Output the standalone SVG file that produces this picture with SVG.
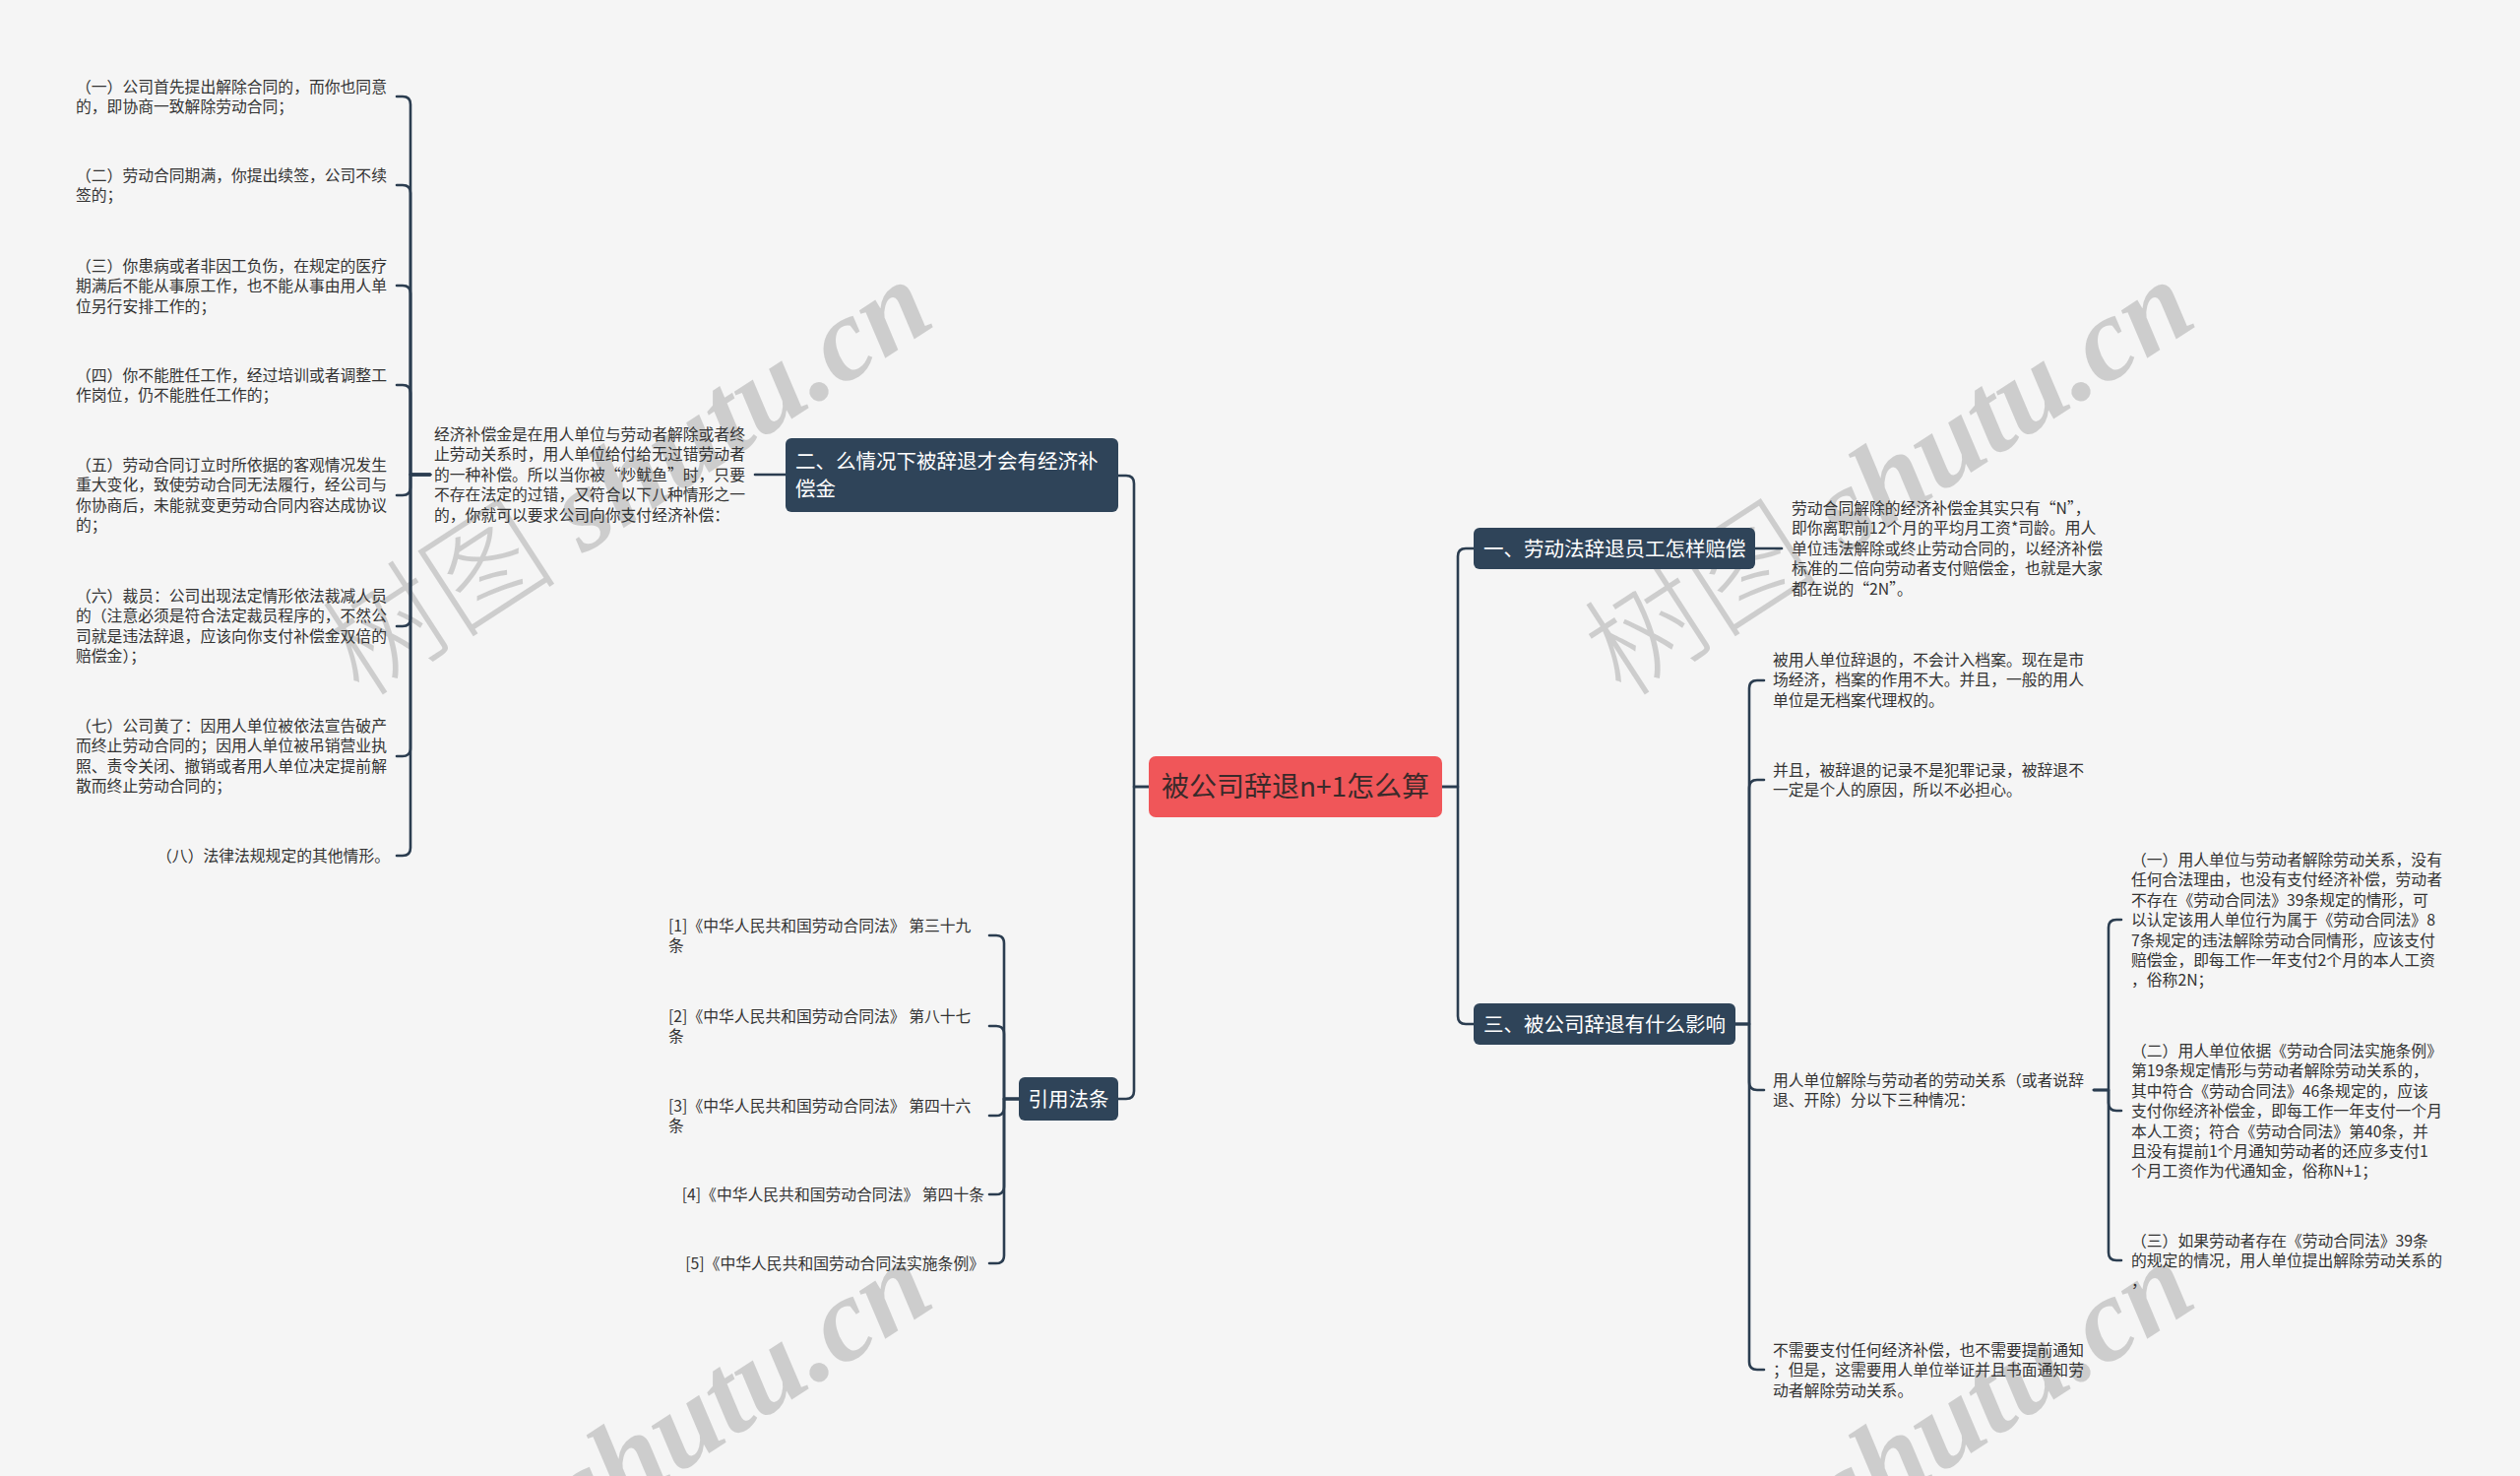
<svg xmlns="http://www.w3.org/2000/svg" width="2560" height="1499" viewBox="0 0 2560 1499">
<style>
.bg{fill:#F5F5F5}
.wm{font-family:"Liberation Sans","Noto Sans CJK SC",sans-serif;font-size:120px;fill:#000;fill-opacity:0.16}
.wmc{font-family:"Noto Sans CJK SC",sans-serif;font-weight:300}
.wml{font-family:"Liberation Serif",serif;font-style:italic;font-weight:bold}
.conn path{fill:none;stroke:#2B3D50;stroke-width:2.6;stroke-linecap:round;stroke-linejoin:round}
.root rect{fill:#F05659}
.root text{font-family:"Noto Sans CJK SC","Noto Sans",sans-serif;font-size:28px;fill:#3A2A2A;text-anchor:middle}
.main rect{fill:#2F4459}
.main text{font-family:"Noto Sans CJK SC","Noto Sans",sans-serif;font-size:20.5px;fill:#FFFFFF}
.leaf text{font-family:"Noto Sans CJK SC","Noto Sans",sans-serif;font-size:15.8px;fill:#333333}
.end{text-anchor:end}
</style>
<rect class="bg" x="0" y="0" width="2560" height="1499"/>

<g id="watermarks">
<text class="wm" transform="translate(366,710) rotate(-33)"><tspan class="wmc">树图</tspan><tspan class="wml" dx="30">shutu.cn</tspan></text>
<text class="wm" transform="translate(1648,710) rotate(-33)"><tspan class="wmc">树图</tspan><tspan class="wml" dx="30">shutu.cn</tspan></text>
<text class="wm" transform="translate(366,1706) rotate(-33)"><tspan class="wmc">树图</tspan><tspan class="wml" dx="30">shutu.cn</tspan></text>
<text class="wm" transform="translate(1648,1706) rotate(-33)"><tspan class="wmc">树图</tspan><tspan class="wml" dx="30">shutu.cn</tspan></text>
</g>

<g id="connectors" class="conn">
<path d="M1167,799 H1152 V491 Q1152,483 1144,483 H1136"/>
<path d="M1167,799 H1152 V1108 Q1152,1116 1144,1116 H1136"/>
<path d="M1465,799 H1481 V565 Q1481,557 1489,557 H1497"/>
<path d="M1465,799 H1481 V1032 Q1481,1040 1489,1040 H1497"/>
<path d="M1783,557 H1810"/>
<path d="M798,482 H767"/>
<path d="M437,482 H417 V106 Q417,98 409,98 H403"/>
<path d="M437,482 H417 V196 Q417,188 409,188 H403"/>
<path d="M437,482 H417 V298 Q417,290 409,290 H403"/>
<path d="M437,482 H417 V399 Q417,391 409,391 H403"/>
<path d="M437,482 H417 V495 Q417,503 409,503 H403"/>
<path d="M437,482 H417 V628 Q417,636 409,636 H403"/>
<path d="M437,482 H417 V760 Q417,768 409,768 H403"/>
<path d="M437,482 H417 V861 Q417,869 409,869 H403"/>
<path d="M1035,1116 H1020 V958 Q1020,950 1012,950 H1005"/>
<path d="M1035,1116 H1020 V1050 Q1020,1042 1012,1042 H1005"/>
<path d="M1035,1116 H1020 V1125 Q1020,1133 1012,1133 H1005"/>
<path d="M1035,1116 H1020 V1205 Q1020,1213 1012,1213 H1005"/>
<path d="M1035,1116 H1020 V1275 Q1020,1283 1012,1283 H1005"/>
<path d="M1763,1040 H1777 V699 Q1777,691 1785,691 H1792"/>
<path d="M1763,1040 H1777 V800 Q1777,792 1785,792 H1792"/>
<path d="M1763,1040 H1777 V1099 Q1777,1107 1785,1107 H1792"/>
<path d="M1763,1040 H1777 V1383 Q1777,1391 1785,1391 H1792"/>
<path d="M2127,1107 H2142 V942 Q2142,934 2150,934 H2155"/>
<path d="M2127,1107 H2142 V1120 Q2142,1128 2150,1128 H2155"/>
<path d="M2127,1107 H2142 V1272 Q2142,1280 2150,1280 H2155"/>
</g>

<g id="root" class="root">
<rect x="1167" y="768" width="298" height="62" rx="7"/>
<text x="1316" y="809">被公司辞退n+1怎么算</text>
</g>

<g id="branch1" class="main">
<rect x="1497" y="536" width="286" height="42" rx="6"/>
<text x="1507" y="564.5">一、劳动法辞退员工怎样赔偿</text>
</g>

<g id="branch2" class="main">
<rect x="798" y="445" width="338" height="75" rx="6"/>
<text x="808" y="476">二、么情况下被辞退才会有经济补</text>
<text x="808" y="504">偿金</text>
</g>

<g id="branch3" class="main">
<rect x="1497" y="1019" width="266" height="42" rx="6"/>
<text x="1507" y="1047.5">三、被公司辞退有什么影响</text>
</g>

<g id="branch4" class="main">
<rect x="1035" y="1094" width="101" height="44" rx="6"/>
<text x="1085.5" y="1123.5" text-anchor="middle">引用法条</text>
</g>

<g id="b1-text" class="leaf">
<text x="1820" y="522">劳动合同解除的经济补偿金其实只有“N”，</text>
<text x="1820" y="542.4">即你离职前12个月的平均月工资*司龄。用人</text>
<text x="1820" y="562.8">单位违法解除或终止劳动合同的，以经济补偿</text>
<text x="1820" y="583.2">标准的二倍向劳动者支付赔偿金，也就是大家</text>
<text x="1820" y="603.6">都在说的“2N”。</text>
</g>

<g id="b2-text" class="leaf">
<text x="441" y="447">经济补偿金是在用人单位与劳动者解除或者终</text>
<text x="441" y="467.4">止劳动关系时，用人单位给付给无过错劳动者</text>
<text x="441" y="487.8">的一种补偿。所以当你被“炒鱿鱼”时，只要</text>
<text x="441" y="508.2">不存在法定的过错，又符合以下八种情形之一</text>
<text x="441" y="528.6">的，你就可以要求公司向你支付经济补偿：</text>
</g>

<g id="case1" class="leaf">
<text x="77" y="94">（一）公司首先提出解除合同的，而你也同意</text>
<text x="77" y="114.4">的，即协商一致解除劳动合同；</text>
</g>
<g id="case2" class="leaf">
<text x="77" y="184">（二）劳动合同期满，你提出续签，公司不续</text>
<text x="77" y="204.4">签的；</text>
</g>
<g id="case3" class="leaf">
<text x="77" y="276">（三）你患病或者非因工负伤，在规定的医疗</text>
<text x="77" y="296.4">期满后不能从事原工作，也不能从事由用人单</text>
<text x="77" y="316.8">位另行安排工作的；</text>
</g>
<g id="case4" class="leaf">
<text x="77" y="387">（四）你不能胜任工作，经过培训或者调整工</text>
<text x="77" y="407.4">作岗位，仍不能胜任工作的；</text>
</g>
<g id="case5" class="leaf">
<text x="77" y="478">（五）劳动合同订立时所依据的客观情况发生</text>
<text x="77" y="498.4">重大变化，致使劳动合同无法履行，经公司与</text>
<text x="77" y="518.8">你协商后，未能就变更劳动合同内容达成协议</text>
<text x="77" y="539.2">的；</text>
</g>
<g id="case6" class="leaf">
<text x="77" y="611">（六）裁员：公司出现法定情形依法裁减人员</text>
<text x="77" y="631.4">的（注意必须是符合法定裁员程序的，不然公</text>
<text x="77" y="651.8">司就是违法辞退，应该向你支付补偿金双倍的</text>
<text x="77" y="672.2">赔偿金）；</text>
</g>
<g id="case7" class="leaf">
<text x="77" y="743">（七）公司黄了：因用人单位被依法宣告破产</text>
<text x="77" y="763.4">而终止劳动合同的；因用人单位被吊销营业执</text>
<text x="77" y="783.8">照、责令关闭、撤销或者用人单位决定提前解</text>
<text x="77" y="804.2">散而终止劳动合同的；</text>
</g>
<g id="case8" class="leaf">
<text class="end" x="396" y="875">（八）法律法规规定的其他情形。</text>
</g>

<g id="ref1" class="leaf">
<text x="679" y="946">[1]《中华人民共和国劳动合同法》 第三十九</text>
<text x="679" y="966.4">条</text>
</g>
<g id="ref2" class="leaf">
<text x="679" y="1038">[2]《中华人民共和国劳动合同法》 第八十七</text>
<text x="679" y="1058.4">条</text>
</g>
<g id="ref3" class="leaf">
<text x="679" y="1129">[3]《中华人民共和国劳动合同法》 第四十六</text>
<text x="679" y="1149.4">条</text>
</g>
<g id="ref4" class="leaf">
<text class="end" x="1000" y="1219">[4]《中华人民共和国劳动合同法》 第四十条</text>
</g>
<g id="ref5" class="leaf">
<text class="end" x="1000" y="1289">[5]《中华人民共和国劳动合同法实施条例》</text>
</g>

<g id="effect1" class="leaf">
<text x="1801" y="676">被用人单位辞退的，不会计入档案。现在是市</text>
<text x="1801" y="696.4">场经济，档案的作用不大。并且，一般的用人</text>
<text x="1801" y="716.8">单位是无档案代理权的。</text>
</g>
<g id="effect2" class="leaf">
<text x="1801" y="788">并且，被辞退的记录不是犯罪记录，被辞退不</text>
<text x="1801" y="808.4">一定是个人的原因，所以不必担心。</text>
</g>
<g id="effect3" class="leaf">
<text x="1801" y="1103">用人单位解除与劳动者的劳动关系（或者说辞</text>
<text x="1801" y="1123.4">退、开除）分以下三种情况：</text>
</g>
<g id="effect4" class="leaf">
<text x="1801" y="1377">不需要支付任何经济补偿，也不需要提前通知</text>
<text x="1801" y="1397.4">；但是，这需要用人单位举证并且书面通知劳</text>
<text x="1801" y="1417.8">动者解除劳动关系。</text>
</g>

<g id="situation1" class="leaf">
<text x="2165" y="879">（一）用人单位与劳动者解除劳动关系，没有</text>
<text x="2165" y="899.4">任何合法理由，也没有支付经济补偿，劳动者</text>
<text x="2165" y="919.8">不存在《劳动合同法》39条规定的情形，可</text>
<text x="2165" y="940.2">以认定该用人单位行为属于《劳动合同法》8</text>
<text x="2165" y="960.6">7条规定的违法解除劳动合同情形，应该支付</text>
<text x="2165" y="981">赔偿金，即每工作一年支付2个月的本人工资</text>
<text x="2165" y="1001.4">，俗称2N；</text>
</g>
<g id="situation2" class="leaf">
<text x="2165" y="1073">（二）用人单位依据《劳动合同法实施条例》</text>
<text x="2165" y="1093.4">第19条规定情形与劳动者解除劳动关系的，</text>
<text x="2165" y="1113.8">其中符合《劳动合同法》46条规定的，应该</text>
<text x="2165" y="1134.2">支付你经济补偿金，即每工作一年支付一个月</text>
<text x="2165" y="1154.6">本人工资；符合《劳动合同法》第40条，并</text>
<text x="2165" y="1175">且没有提前1个月通知劳动者的还应多支付1</text>
<text x="2165" y="1195.4">个月工资作为代通知金，俗称N+1；</text>
</g>
<g id="situation3" class="leaf">
<text x="2165" y="1266">（三）如果劳动者存在《劳动合同法》39条</text>
<text x="2165" y="1286.4">的规定的情况，用人单位提出解除劳动关系的</text>
<text x="2165" y="1306.8">，</text>
</g>
</svg>
